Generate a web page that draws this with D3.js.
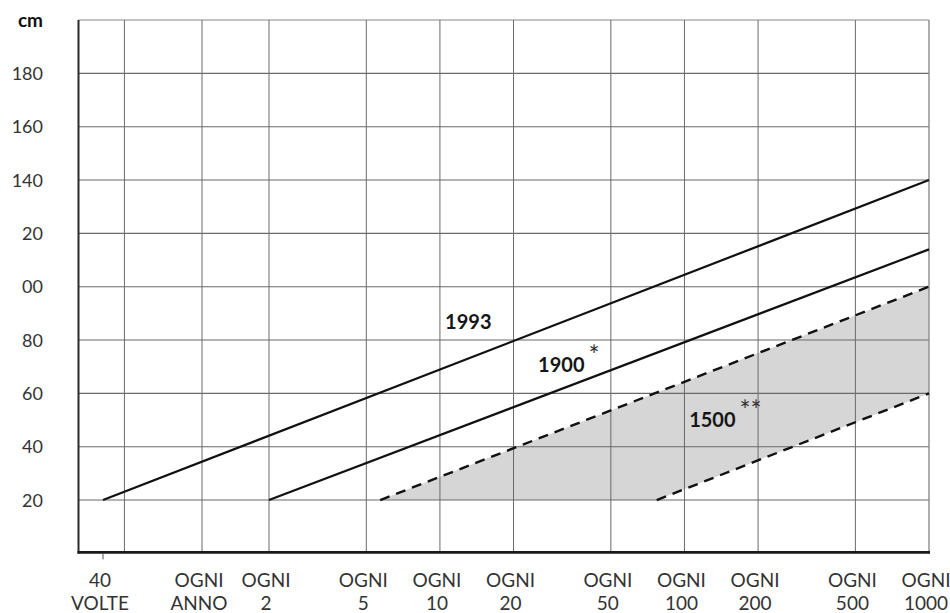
<!DOCTYPE html>
<html>
<head>
<meta charset="utf-8">
<script src="https://cdn.jsdelivr.net/npm/d3@7"></script>
<style>
  body { margin: 0; background: #fff; }
  text { font-family: Lato, "Open Sans", sans-serif; }
</style>
</head>
<body>
<div id="chart"></div>
<script>
////////////////////////////////////////////////////////////////////////
// Data: return periods (years) on x, water level (cm) on y

const xTickValues = [1 / 40, 1, 2, 5, 10, 20, 50, 100, 200, 500, 1000];
const xTickTop = ["40", "OGNI", "OGNI", "OGNI", "OGNI", "OGNI", "OGNI", "OGNI", "OGNI", "OGNI", "OGNI"];
const xTickBottom = ["VOLTE", "ANNO", "2", "5", "10", "20", "50", "100", "200", "500", "1000"];

// vertical grid lines (one unlabeled line between 40 VOLTE and OGNI ANNO)
const xGridValues = [1 / 18, 1, 2, 5, 10, 20, 50, 100, 200, 500, 1000];

const yTickValues = [20, 40, 60, 80, 100, 120, 140, 160, 180];
const yTickLabels = ["20", "40", "60", "80", "00", "20", "140", "160", "180"];

// each line: start and end as [return period, cm]
const line1993 = [[1 / 40, 20], [1000, 140]];
const line1900 = [[2, 20], [1000, 114]];
const band1500Upper = [[5.7, 20], [1000, 100]];
const band1500Lower = [[77, 20], [1000, 60]];

// label anchors (left edge of the year text) in data units
const seriesLabels = [
  { name: "1993", stars: "", t: 10.5, cm: 84 },
  { name: "1900", stars: "*", t: 25.2, cm: 68 },
  { name: "1500", stars: "**", t: 104.5, cm: 47.3 }
];

////////////////////////////////////////////////////////////////////////
// Setup

let width = 950;
let height = 613;

let svg = d3.select("#chart")
  .append("svg")
  .attr("width", width).attr("height", height);

// log scale for return periods, split so the "40 volte" point sits at the left
let xScale = d3.scaleLog()
  .domain([1 / 40, 1, 2, 1000])
  .range([103, 202, 269, 929]);

let yScale = d3.scaleLinear()
  .domain([0, 200])
  .range([553.4, 20]);

let x0 = 78.5;
let x1 = xScale(1000);

// shaded band for 1500
let bandPoints = band1500Upper.concat(band1500Lower.slice().reverse());
svg.append("path")
  .attr("d", d3.line()
    .x((d) => xScale(d[0]))
    .y((d) => yScale(d[1]))(bandPoints) + "Z")
  .attr("fill", "#d6d6d6")
  .attr("stroke", "none");

// Grid
svg.append("g")
  .selectAll("line")
  .data(yTickValues.concat([200]))
  .enter()
  .append("line")
  .attr("x1", x0).attr("x2", x1)
  .attr("y1", (d) => yScale(d)).attr("y2", (d) => yScale(d))
  .attr("stroke", "#6a6a6a")
  .attr("stroke-width", (d) => d == 200 ? 0.8 : 1.1);

svg.append("g")
  .selectAll("line")
  .data(xGridValues)
  .enter()
  .append("line")
  .attr("x1", (d) => xScale(d)).attr("x2", (d) => xScale(d))
  .attr("y1", yScale(200)).attr("y2", yScale(0))
  .attr("stroke", (d) => d == 1000 ? "#8a8a8a" : "#6a6a6a")
  .attr("stroke-width", (d) => d == 1000 ? 1.4 : 1);

// Axes
svg.append("line")
  .attr("x1", x0).attr("x2", x0)
  .attr("y1", yScale(200)).attr("y2", yScale(0))
  .attr("stroke", "#2a2a2a")
  .attr("stroke-width", 2);

svg.append("line")
  .attr("x1", x0 - 1).attr("x2", x1 + 1)
  .attr("y1", yScale(0) - 1).attr("y2", yScale(0) - 1)
  .attr("stroke", "#1a1a1a")
  .attr("stroke-width", 2.6);

// small tick under "40 volte"
svg.append("line")
  .attr("x1", xScale(1 / 40)).attr("x2", xScale(1 / 40))
  .attr("y1", yScale(0)).attr("y2", yScale(0) + 6)
  .attr("stroke", "#555")
  .attr("stroke-width", 1);

// Lines
let lineGen = d3.line()
  .x((d) => xScale(d[0]))
  .y((d) => yScale(d[1]));

[line1993, line1900].forEach((pts) => {
  svg.append("path")
    .attr("d", lineGen(pts))
    .attr("fill", "none")
    .attr("stroke", "#111")
    .attr("stroke-width", 2.2);
});

[band1500Upper, band1500Lower].forEach((pts) => {
  svg.append("path")
    .attr("d", lineGen(pts))
    .attr("fill", "none")
    .attr("stroke", "#111")
    .attr("stroke-width", 2.4)
    .attr("stroke-dasharray", "10,7");
});

// Series labels
let labels = svg.append("g")
  .selectAll("text")
  .data(seriesLabels)
  .enter()
  .append("text")
  .attr("x", (d) => xScale(d.t))
  .attr("y", (d) => yScale(d.cm))
  .attr("font-size", 20)
  .attr("font-weight", "bold")
  .attr("fill", "#161616");

labels.append("tspan").text((d) => d.name);
labels.append("tspan")
  .attr("dx", 4)
  .attr("dy", -7)
  .attr("font-size", 26)
  .attr("font-weight", "normal")
  .attr("fill", "#333")
  .text((d) => d.stars);

// Y tick labels
svg.append("g")
  .selectAll("text")
  .data(yTickValues)
  .enter()
  .append("text")
  .attr("x", 43)
  .attr("y", (d) => yScale(d) + 6.5)
  .attr("text-anchor", "end")
  .attr("font-size", 18)
  .attr("fill", "#333")
  .text((d, i) => yTickLabels[i]);

svg.append("text")
  .attr("x", 43)
  .attr("y", 27)
  .attr("text-anchor", "end")
  .attr("font-size", 19)
  .attr("font-weight", "bold")
  .attr("fill", "#111")
  .text("cm");

// X tick labels in two rows
let xLabels = svg.append("g")
  .selectAll("g")
  .data(xTickValues)
  .enter()
  .append("g")
  .attr("transform", (d) => "translate(" + (xScale(d) - 3) + ",0)");

xLabels.append("text")
  .attr("y", 587)
  .attr("text-anchor", "middle")
  .attr("font-size", 19)
  .attr("fill", "#333")
  .text((d, i) => xTickTop[i]);

xLabels.append("text")
  .attr("y", 610)
  .attr("text-anchor", "middle")
  .attr("font-size", 19)
  .attr("fill", "#333")
  .text((d, i) => xTickBottom[i]);
</script>
</body>
</html>
